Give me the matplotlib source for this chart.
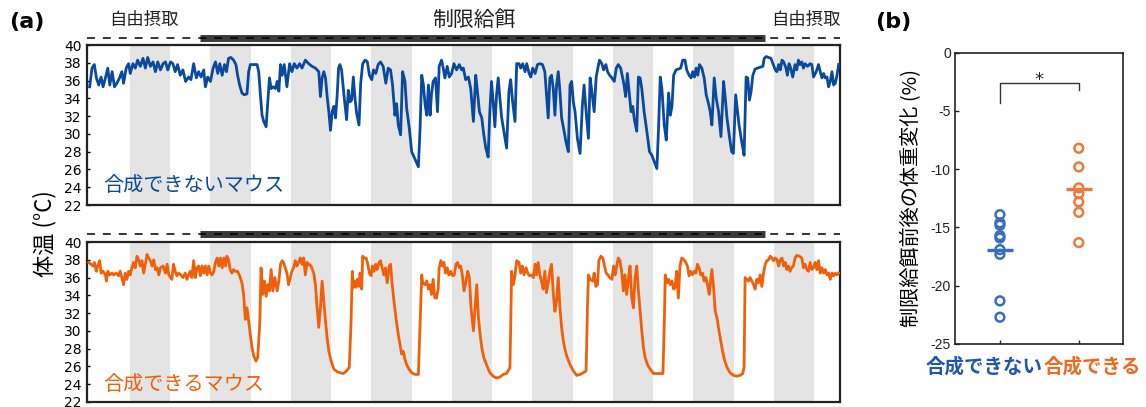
import matplotlib.pyplot as plt
import matplotlib.transforms as mtransforms

plt.rcParams['font.family'] = ['DejaVu Sans', 'Noto Sans CJK JP']
JP = ['Noto Sans CJK JP', 'DejaVu Sans']

# ---- data (a): body temperature, time in hours ----
blue_t = [0.8, 1.5, 2.2, 2.8, 3.5, 4.2, 4.8, 5.5, 6.2, 6.8, 7.5, 8.2, 8.9, 9.7, 10.4, 10.9, 11.7, 12.4, 12.9, 13.7,
          14.4, 15.1, 15.9, 16.7, 17.4, 18.1, 18.9, 19.7, 20.4, 21.1, 21.9, 22.7, 23.4, 24.1, 24.9, 25.6, 26.3, 27.0,
          27.8, 28.6, 29.4, 30.3, 31.0, 31.8, 32.6, 33.3, 34.0, 34.8, 35.3, 36.0, 36.8, 37.6, 38.3, 39.0, 39.6, 40.3,
          41.0, 41.6, 42.2, 42.9, 43.7, 44.4, 44.9, 45.5, 46.2, 46.9, 47.7, 48.2, 48.7, 49.7, 50.7, 51.2, 51.7, 52.2,
          52.7, 53.4, 53.9, 54.4, 54.9, 55.5, 56.2, 56.7, 57.2, 57.7, 58.2, 58.8, 59.6, 60.4, 61.1, 61.8, 62.6, 63.4,
          64.1, 65.1, 66.1, 67.1, 68.1, 69.1, 69.6, 70.1, 70.6, 71.1, 71.6, 72.1, 72.6, 73.1, 73.6, 74.1, 74.6, 75.0,
          75.4, 75.9, 76.6, 77.4, 77.9, 78.4, 78.9, 79.4, 79.9, 80.4, 81.1, 81.6, 82.2, 82.9, 83.6, 84.2, 84.9, 85.4,
          86.1, 86.8, 87.5, 88.3, 89.1, 89.8, 90.5, 91.1, 91.8, 92.3, 92.8, 93.5, 94.1, 94.8, 95.3, 96.1, 96.8, 97.5,
          98.1, 98.8, 99.3, 99.8, 100.3, 100.8, 101.3, 101.8, 102.3, 102.7, 103.2, 103.9, 104.5, 105.0, 105.7, 106.2,
          106.7, 107.4, 108.0, 108.7, 109.4, 110.2, 111.0, 111.7, 112.2, 112.9, 113.7, 114.4, 115.2, 115.9, 116.4,
          117.0, 117.7, 118.3, 118.9, 119.6, 120.1, 120.6, 121.1, 121.6, 122.1, 122.6, 123.1, 123.6, 124.3, 125.1,
          125.8, 126.3, 126.9, 127.6, 128.1, 128.8, 129.3, 129.9, 130.6, 131.1, 131.8, 132.3, 132.9, 133.6, 134.3,
          135.0, 135.8, 136.5, 137.0, 137.5, 138.0, 138.5, 139.0, 139.5, 140.0, 140.5, 141.0, 141.5, 142.0, 142.8,
          143.5, 144.0, 144.5, 145.0, 145.5, 146.2, 147.0, 147.7, 148.2, 148.8, 149.5,
          150.0, 150.5, 151.2, 151.8, 152.2, 152.8, 153.5, 154.0, 154.7, 155.2, 155.8, 156.5, 157.2, 157.8, 158.4,
          159.1, 159.7, 160.1, 160.6, 161.1, 161.7, 162.2, 162.7, 163.2, 163.9, 164.4, 164.9, 165.4, 166.1, 166.9,
          167.7, 168.4, 169.1, 169.9, 170.4, 170.9, 171.4, 172.1, 172.7, 173.4, 173.9, 174.4, 174.9, 175.6, 176.3,
          177.0, 177.6, 178.3, 178.8, 179.5, 180.1, 180.6, 181.1, 181.6, 182.1, 182.6, 183.3, 184.0, 184.6, 185.3,
          185.8, 186.3, 187.0, 187.6, 188.3, 189.0, 189.8, 190.3, 190.8, 191.6, 192.2, 192.7, 193.4, 193.9, 194.4,
          195.2, 195.9, 196.5, 197.0, 197.5, 198.0, 198.5, 199.2, 199.9, 200.7, 201.5, 201.9, 202.5, 203.2, 203.9,
          204.5, 205.2, 205.7, 206.2, 206.7, 207.2, 207.7, 208.4, 208.8, 209.3, 209.8, 210.4, 211.1, 211.6, 212.1,
          212.6, 213.1, 213.6, 214.1, 214.8, 215.6, 216.1, 216.6, 217.4, 218.1, 218.6, 219.1, 219.6, 220.1, 220.6,
          221.1, 221.6, 222.1, 222.6, 223.1, 223.6, 224.1]
blue_temp = [35.3, 37.4, 37.8, 36.3, 35.5, 36.4, 35.3, 36.3, 37.4, 35.5, 37.0, 35.3, 35.7, 36.3, 37.0, 35.7, 37.4, 37.9,
             36.8, 37.9, 37.4, 38.3, 37.6, 38.5, 37.4, 38.6, 37.6, 38.1, 37.0, 38.1, 37.2, 37.9, 38.1, 37.2, 38.1, 37.9,
             37.0, 37.8, 36.6, 37.2, 35.9, 36.4, 36.1, 37.9, 36.3, 37.0, 36.4, 37.2, 35.3, 36.4, 35.9, 37.4, 38.1, 36.8,
             37.9, 36.6, 37.8, 37.0, 38.5, 38.6, 38.3, 37.8, 36.6, 35.5, 34.6, 34.4, 34.5, 37.0, 37.8, 37.8, 37.8, 37.0,
             34.4, 32.1, 31.4, 30.8, 33.6, 36.3, 35.1, 35.3, 35.1, 35.9, 34.8, 37.8, 36.6, 37.8, 35.3, 37.9, 37.0, 37.9,
             37.4, 37.9, 37.4, 38.3, 37.9, 37.6, 37.4, 37.0, 34.2, 36.3, 37.0, 36.3, 34.2, 32.5, 30.4, 32.5, 33.1, 31.8,
             34.4, 37.4,
             37.8, 37.2, 34.4, 31.6, 34.9, 33.6, 33.8, 36.4, 34.0, 32.3, 31.0, 35.7, 37.9, 38.3, 38.1, 36.6, 36.1, 37.2,
             36.8, 37.8, 38.1, 37.6, 35.7, 37.4, 37.2, 35.5, 32.1, 33.4, 31.0, 29.9, 37.0, 35.9, 32.9, 30.6, 28.0, 27.4,
             26.9, 26.3, 30.6, 36.6, 35.5, 33.3, 32.1, 35.5, 32.1, 34.4, 35.9, 36.3, 32.5, 37.6, 38.3, 37.4, 36.3, 37.6,
             36.4, 36.8, 37.9, 37.2, 37.8, 37.2, 37.4, 36.1, 36.4, 35.1, 31.4, 36.6, 34.8, 32.5, 31.8, 29.9, 28.4, 27.4,
             32.5, 35.9, 33.6, 30.8, 34.4, 36.3, 34.0, 31.9, 30.3, 28.4, 34.8, 36.1, 33.6, 31.4, 37.9, 37.9, 37.4, 37.9,
             37.0, 37.9, 36.8, 36.4, 37.4, 36.8, 37.8, 37.9, 37.8, 37.0, 34.4, 31.8, 36.3, 36.6, 35.1, 32.1, 35.5, 37.0,
             34.8, 31.8, 30.8, 29.1, 28.0, 35.5, 35.9, 33.6, 32.5, 29.5, 27.8, 33.3, 35.5, 32.5, 29.5,
             36.3, 34.8, 32.5, 36.4, 37.2, 38.3, 37.9, 37.2, 37.8, 37.0, 36.6, 36.3, 35.9, 37.4, 37.8, 37.4, 36.3, 35.5,
             34.2, 36.8, 34.4, 32.5, 33.1, 31.6, 30.3, 36.4, 36.3, 35.1, 32.5, 30.3, 28.0, 27.6, 26.9, 26.1, 30.6, 36.4,
             35.1, 31.0, 29.3, 34.6, 32.1, 33.1, 36.6, 37.2, 37.3, 37.4, 38.3, 38.3, 37.2, 36.6, 36.3, 37.0, 36.4, 37.4,
             36.6, 37.8, 37.4, 36.3, 34.4, 33.4, 32.5, 31.0, 36.3, 34.0, 32.5, 29.7, 35.9, 34.0, 31.8, 29.5, 28.0, 27.8,
             34.4, 32.7, 31.0, 29.1, 27.6, 36.4, 36.3, 33.8, 34.8, 36.6, 37.3, 37.4, 37.5, 37.6, 38.5, 38.7, 38.6, 38.5,
             37.9, 37.2, 37.0, 37.8, 37.2, 38.3, 38.1, 37.4, 36.6, 37.9, 37.4, 36.4, 37.8, 37.2, 38.3, 37.8, 38.1, 37.4,
             37.9, 37.6, 37.9, 37.8, 36.4, 37.0, 37.8, 37.0, 36.3, 36.8, 36.3, 36.4, 35.3, 35.9, 37.0, 35.5, 35.7, 36.6,
             37.8]

orange_t = [0.5, 1.2, 1.8, 2.2, 2.8, 3.2, 3.8, 4.2, 4.8, 5.5, 5.8, 6.2, 6.8, 7.5, 8.0, 8.7, 9.4, 9.9, 10.4, 10.9, 11.4,
            11.9, 12.4, 12.9, 13.4, 13.9, 14.4, 14.9, 15.4, 15.9, 16.4, 16.9, 17.4, 17.9, 18.4, 18.9, 19.4, 19.9, 20.4,
            20.9, 21.4, 21.9, 22.7, 23.4, 23.9, 24.4, 24.9, 25.3, 25.8, 26.3, 26.8, 27.3, 28.0, 28.6, 29.3, 29.8, 30.3,
            30.8, 31.3, 31.8, 32.3, 32.8, 33.3, 33.8, 34.3, 34.8, 35.3, 35.8, 36.3, 36.8, 37.3, 37.8, 38.3, 38.8, 39.3,
            39.8, 40.3, 40.8, 41.3, 41.7, 42.2, 42.7, 43.2, 43.7, 44.2, 44.9, 45.5, 46.2, 46.7, 47.2, 47.7, 48.2, 48.7,
            49.2, 49.7, 50.4, 50.9, 51.5, 51.9, 52.4, 52.9, 53.4, 53.9, 54.4, 54.9, 55.4, 56.0, 56.7, 57.2, 57.7, 58.2,
            58.6, 59.1, 59.6, 60.1, 60.6, 61.1, 61.6, 62.1, 62.6, 63.1, 63.6, 64.1, 64.6, 65.1, 65.6, 66.1, 66.8, 67.6,
            68.1, 68.6, 69.1, 69.6, 70.1, 70.6, 71.1, 71.6, 72.1, 72.8, 73.6, 74.6,
            75.4, 76.4, 77.4, 78.2, 78.7, 79.1, 79.4, 79.9, 80.2, 80.6, 81.1, 81.4, 81.9, 82.2, 82.6, 83.2, 83.6, 84.2,
            84.7, 85.1, 85.6, 86.1, 86.5, 87.1, 87.5, 88.0, 88.5, 89.0, 89.5, 90.1, 90.5, 90.9, 91.5, 92.1, 92.8, 93.3,
            93.8, 94.3, 94.8, 95.3, 96.0, 96.8, 97.8, 98.8, 99.3, 99.8, 100.1, 100.8, 101.3, 101.8, 102.3, 102.7, 103.2,
            103.7, 104.2, 104.7, 105.0, 105.5, 106.0, 106.4, 106.9, 107.4, 107.9, 108.4, 109.0, 109.5, 110.0, 110.5,
            111.0, 111.4, 111.9, 112.4, 113.0, 113.5, 114.0, 114.5, 115.2, 115.7, 116.2, 116.7, 117.2, 117.7, 118.3,
            119.1, 120.1, 121.1, 122.1, 123.1, 124.1, 125.1, 126.1, 126.4, 126.6, 127.1, 127.6, 128.1, 128.8, 129.3,
            129.8, 130.3, 130.9, 131.4, 131.9, 132.6, 133.1, 133.6, 134.0, 134.5, 135.0, 135.5, 136.0, 136.5, 137.0,
            137.5, 138.0, 138.5, 139.0, 139.5, 140.0, 140.5, 141.0, 141.5, 142.0, 142.5, 143.0, 144.0, 145.0, 146.0,
            147.0, 148.0, 148.8, 149.2, 149.5,
            150.0, 150.8, 151.2, 151.7, 152.2, 152.6, 153.2, 153.8, 154.3, 154.8, 155.3, 155.8, 156.5, 157.0, 157.5,
            158.0, 158.4, 158.9, 159.4, 159.9, 160.4, 160.9, 161.4, 161.9, 162.4, 162.9, 163.4, 163.9, 164.4, 164.9,
            165.4, 165.9, 166.4, 167.1, 167.9, 168.9, 169.9, 170.9, 171.7, 172.1, 172.4, 172.9, 173.4, 173.9, 174.4,
            174.9, 175.3, 175.8, 176.3, 176.8, 177.3, 178.0, 178.5, 179.0, 179.5, 180.0, 180.5, 181.0, 181.5, 182.0,
            182.5, 183.0, 183.5, 184.0, 184.5, 185.0, 185.5, 185.8, 186.3, 186.8, 187.3, 187.8, 188.6, 189.3, 190.0,
            190.8, 191.7, 192.7, 193.7, 194.7, 195.5, 195.9, 196.2, 196.7, 197.2, 197.7, 198.2, 198.7, 199.2, 199.7,
            200.2, 200.7, 201.2, 201.7, 202.2, 202.7, 203.2, 203.7, 204.2, 204.7, 205.2, 205.7, 206.2, 206.7, 207.2,
            207.7, 208.2, 208.6, 209.1, 209.6, 210.1, 210.6, 211.1, 211.6, 212.4, 213.1, 213.6, 214.1, 214.6, 215.1,
            215.6, 216.1, 216.6, 217.1, 217.6, 218.1, 218.6, 219.1, 219.6, 220.1, 220.6, 221.1, 221.6, 222.1, 222.6,
            223.1, 223.6, 224.1]
orange_temp = [37.7, 37.5, 37.3, 37.7, 36.7, 37.3, 37.9, 36.5, 36.7, 36.3, 35.6, 36.7, 36.3, 36.5, 36.3, 36.5, 36.2,
               36.7, 36.0, 35.2, 36.5, 35.8, 36.7, 36.3, 37.1, 37.7, 37.1, 38.4, 38.0, 37.3, 37.9, 36.5, 37.5, 38.6,
               38.2, 37.9, 37.3, 38.0, 36.9, 37.1, 36.3, 37.1, 37.3, 36.5, 37.5, 36.3, 36.0, 35.8, 37.5, 36.7, 36.2,
               36.5, 36.3, 36.0, 36.5, 35.8, 36.3, 36.7, 36.0, 37.9, 36.0, 37.1, 37.3, 36.2, 37.3, 36.5, 37.3, 36.3,
               37.3, 36.5, 36.3, 36.7, 37.7, 38.2, 37.3, 38.2, 37.1, 38.2, 37.3, 38.4, 38.0, 36.9, 36.5, 36.9, 36.7,
               36.7, 36.2, 35.4, 34.1, 31.3, 32.6, 31.1, 29.6, 28.1, 27.2, 26.6, 27.0, 30.7, 37.1, 34.1, 35.6, 33.9,
               35.2, 34.5, 36.9, 34.5, 36.0, 34.5, 35.6, 37.5, 37.9, 37.7, 37.1, 36.5, 35.2, 36.0, 36.7, 37.1, 37.9,
               37.3, 37.7, 38.2, 37.5, 38.2, 36.3, 37.7, 37.5, 37.3, 36.5, 35.2, 32.6, 30.4, 32.6, 35.6, 33.4, 31.1,
               29.2, 27.7, 26.6, 25.7, 25.4,
               25.3, 25.2, 25.5, 25.9, 30.7, 36.7, 34.9, 35.6, 34.9, 35.8, 35.0, 36.5, 34.7, 38.4, 38.2, 38.2, 37.7,
               36.5, 36.2, 37.3, 36.7, 37.5, 36.9, 37.7, 37.9, 37.1, 36.3, 37.1, 35.4, 37.3, 37.5, 35.6, 33.4, 31.5,
               29.6, 28.5, 27.4, 27.7, 26.8, 26.2, 25.7, 25.3, 25.1, 25.1, 30.7, 36.3, 35.4, 35.2, 35.6, 34.7, 35.2,
               34.1, 35.8, 33.7, 33.7, 34.7, 37.1, 37.9, 37.3, 37.7, 36.5, 37.1, 36.3, 36.7, 36.2, 36.3, 37.5, 37.7,
               37.1, 37.3, 36.3, 34.5, 35.6, 36.7, 36.0, 32.6, 30.0, 32.6, 35.2, 31.5, 29.6, 28.1, 27.0, 26.2, 25.3,
               24.9, 24.7, 24.8, 25.1, 25.2, 25.9, 32.6, 36.7, 35.2, 36.2, 37.9, 37.7, 36.5, 37.3, 36.3, 37.1, 36.5,
               36.2, 36.3, 36.0, 37.5, 36.3, 37.7, 36.3, 35.6, 34.7, 36.7, 34.3, 35.4, 36.7, 37.5, 34.3, 32.2, 33.4,
               36.0, 32.6, 30.4, 28.9, 27.9, 27.2, 26.2, 25.5, 25.0, 25.1, 25.3, 25.5, 32.6, 36.3,
               35.8, 35.6, 36.5, 35.0, 35.2, 37.9, 38.4, 38.2, 37.3, 36.5, 36.3, 36.0, 35.8, 37.3, 36.3, 37.5, 38.2,
               37.9, 36.7, 34.5, 36.3, 34.1, 35.8, 37.3, 33.7, 32.6, 36.0, 37.3, 34.5, 32.2, 30.0, 28.1, 27.0, 26.2,
               25.7, 25.2, 25.2, 25.2, 25.2, 30.7, 36.3, 35.4, 35.8, 35.2, 35.6, 34.7, 34.9, 36.7, 33.7, 37.3, 38.2,
               38.0, 37.7, 37.3, 36.2, 36.7, 36.3, 36.7, 36.5, 37.5, 37.1, 36.3, 36.5, 35.6, 36.0, 35.2, 34.1, 35.2,
               36.9, 34.9, 32.2, 31.5, 29.6, 28.1, 26.8, 25.9, 25.3, 25.0, 24.9, 25.0, 25.2, 25.9, 36.0, 35.8, 35.6,
               36.0, 35.6, 35.2, 34.7, 35.8, 35.4, 36.3, 35.0, 36.5, 37.5, 37.9, 38.0, 38.4, 38.2, 37.9, 38.2, 38.0,
               37.3, 38.0, 38.2, 37.3, 37.7, 36.9, 37.3, 36.7, 37.1, 37.3, 38.2, 38.5, 38.4, 38.2, 37.1, 37.5, 36.9,
               36.7, 37.7, 36.9, 37.1, 37.7, 36.9, 37.9, 36.5, 37.1, 36.5, 36.9, 36.3, 36.5, 35.8, 36.5, 36.2, 36.5,
               36.3, 36.5]

dark_onsets = [12.8, 36.8, 60.8, 84.8, 108.8, 132.8, 156.8, 180.8, 204.8]   # 12 h dark phases
dark_length = 12.0
t_end = 224.5
restrict_start, restrict_end = 33.6, 202.1
phase_labels = ['自由摂取', '制限給餌', '自由摂取']
phase_label_pos = [17.0, 115.4, 214.4]
panel_names = ['合成できないマウス', '合成できるマウス']
temp_ticks = [22, 24, 26, 28, 30, 32, 34, 36, 38, 40]

# ---- data (b): body weight change (%) ----
groups = ['合成できない', '合成できる']
weight_unable = [-13.9, -14.6, -14.8, -15.7, -15.9, -16.9, -17.3, -21.3, -22.7]
weight_able = [-8.2, -9.8, -11.6, -12.1, -12.8, -13.7, -16.3]
group_means = [-16.97, -11.71]

blue = '#0a4a9e'
orange = '#f05f0a'
blue_pt = '#3a6cc0'
orange_pt = '#f07838'

fig = plt.figure(figsize=(11.46, 4.07), dpi=100)
ax_top = fig.add_axes([0.0759, 0.4963, 0.6571, 0.3931])
ax_bot = fig.add_axes([0.0759, 0.0123, 0.6571, 0.3931])

for ax, t, temp, col, name, name_y in [(ax_top, blue_t, blue_temp, blue, panel_names[0], 0.125),
                                      (ax_bot, orange_t, orange_temp, orange, panel_names[1], 0.11)]:
    for d in dark_onsets:
        ax.axvspan(d, d + dark_length, color='#e4e4e4', lw=0, zorder=0)
    ax.plot(t, temp, color=col, lw=2.0, zorder=3)
    ax.set_xlim(0, t_end)
    ax.set_ylim(22, 40)
    ax.set_yticks(temp_ticks)
    ax.set_xticks([])
    ax.tick_params(axis='y', direction='in', length=2.5, width=1, labelsize=10, pad=4)
    for s in ax.spines.values():
        s.set_linewidth(1.6)
        s.set_color('#222222')
    ax.text(0.022, name_y, name, transform=ax.transAxes, color=col, fontsize=14.5,
            family=JP, va='center', ha='left', zorder=5)

    # feeding condition bar above the panel
    trans = mtransforms.blended_transform_factory(ax.transData, ax.transAxes)
    bar_y = 1.045 if ax is ax_top else 1.052
    ax.plot([restrict_start, restrict_end], [bar_y, bar_y], transform=trans, color='#3a3a3a',
            lw=5.0, solid_capstyle='butt', clip_on=False)
    ax.plot([0, t_end], [bar_y, bar_y], transform=trans, color='black', lw=1.1,
            dashes=(5.2, 5.2), clip_on=False)

trans = mtransforms.blended_transform_factory(ax_top.transData, ax_top.transAxes)
for lab, xp in zip(phase_labels, phase_label_pos):
    big = lab == '制限給餌'
    ax_top.text(xp, 1.155, lab, transform=trans, ha='center', va='center', family=JP,
                fontsize=15 if big else 12.5, color='#222222')

fig.text(0.008, 0.945, '(a)', fontsize=16, fontweight='bold', va='center', ha='left')
fig.text(0.039, 0.427, '体温 (°C)', rotation=90, fontsize=16, family=JP, va='center', ha='center')

# ---- panel (b) ----
ax_b = fig.add_axes([0.8333, 0.1548, 0.1466, 0.7157])
ax_b.scatter([0] * len(weight_unable), weight_unable, s=40, facecolors='none',
             edgecolors=blue_pt, linewidths=1.8, zorder=3)
ax_b.scatter([1] * len(weight_able), weight_able, s=40, facecolors='none',
             edgecolors=orange_pt, linewidths=1.8, zorder=3)
for i, (m, c) in enumerate(zip(group_means, [blue_pt, orange_pt])):
    ax_b.plot([i - 0.165, i + 0.165], [m, m], color=c, lw=2.4, solid_capstyle='butt', zorder=4)

# significance bracket
ax_b.plot([0, 0, 1, 1], [-4.3, -2.6, -2.6, -3.2], color='#333333', lw=1.0)
ax_b.text(0.5, -3.15, '*', ha='center', va='bottom', fontsize=13, color='#222222')

ax_b.set_xlim(-0.57, 1.56)
ax_b.set_ylim(-25, 0)
ax_b.set_yticks([0, -5, -10, -15, -20, -25])
ax_b.set_yticklabels(['0', '-5', '-10', '-15', '-20', '-25'], family='Liberation Sans')
ax_b.set_xticks([0, 1])
ax_b.set_xticklabels(['', ''])
ax_b.tick_params(direction='in', length=3, width=1, labelsize=10, colors='#222222', pad=3)
for s in ax_b.spines.values():
    s.set_linewidth(1.2)
    s.set_color('#222222')
ax_b.set_ylabel('制限給餌前後の体重変化 (%)', family=JP, fontsize=14.5, labelpad=6)

ax_b.text(0.173, -0.079, groups[0], transform=ax_b.transAxes, color='#1e56b0', fontsize=14,
          family=JP, fontweight='bold', ha='center', va='center')
ax_b.text(0.82, -0.079, groups[1], transform=ax_b.transAxes, color='#ee6a1e', fontsize=14,
          family=JP, fontweight='bold', ha='center', va='center')
fig.text(0.764, 0.945, '(b)', fontsize=16, fontweight='bold', va='center', ha='left')

fig.savefig('out.png', dpi=100)
